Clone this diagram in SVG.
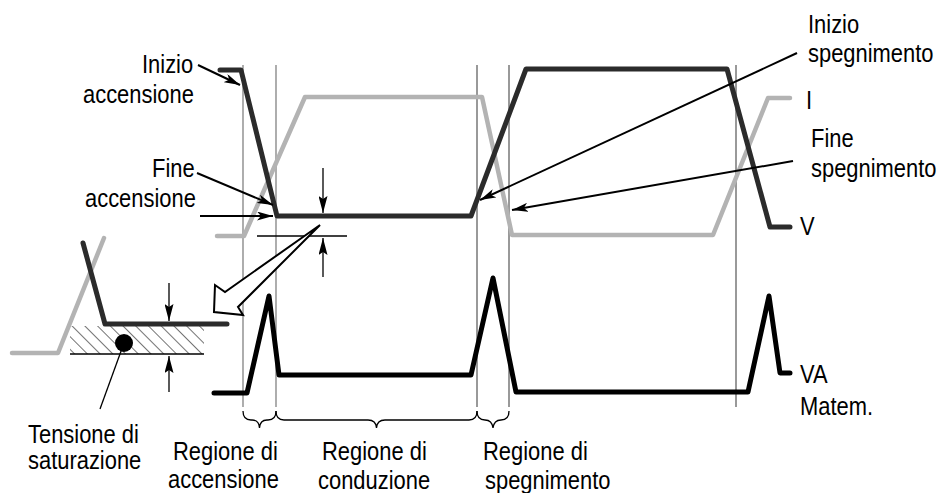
<svg xmlns="http://www.w3.org/2000/svg" width="944" height="493" viewBox="0 0 944 493">
  <style>
    .lbl { font-family: "Liberation Sans", Arial, sans-serif; font-size: 25.5px; fill: #000; }
    .guide { stroke: #555; stroke-width: 1.2; fill: none; }
    .guide.soft { stroke: #777; }
    .v { stroke: #2b2b2b; stroke-width: 5; fill: none; stroke-linejoin: round; stroke-linecap: round; }
    .i { stroke: #b3b3b3; stroke-width: 4.5; fill: none; stroke-linejoin: round; stroke-linecap: round; }
    .va { stroke: #000; stroke-width: 5; fill: none; stroke-linejoin: round; stroke-linecap: round; }
    .lead { stroke: #000; stroke-width: 2; fill: none; }
    .thin { stroke: #000; stroke-width: 1.3; fill: none; }
    .brace { stroke: #000; stroke-width: 1.3; fill: none; }
  </style>
  <defs>
    <marker id="ah" viewBox="0 0 16 9" refX="16" refY="4.5" markerWidth="16" markerHeight="9" markerUnits="userSpaceOnUse" orient="auto">
      <path d="M0,0 L16,4.5 L0,9 L4,4.5 z" fill="#000"/>
    </marker>
    <marker id="ahn" viewBox="0 0 17 9" refX="17" refY="4.5" markerWidth="17" markerHeight="9" markerUnits="userSpaceOnUse" orient="auto">
      <path d="M0,0 L17,4.5 L0,9 L3,4.5 z" fill="#000"/>
    </marker>
    <pattern id="hatch" width="9" height="9" patternUnits="userSpaceOnUse" patternTransform="rotate(-45)">
      <line x1="0" y1="0" x2="0" y2="9" stroke="#000" stroke-width="1.1"/>
    </pattern>
  </defs>

  <!-- vertical region guides -->
  <g id="guides">
    <line class="guide soft" x1="243" y1="65" x2="243" y2="407"/>
    <line class="guide soft" x1="276" y1="65" x2="276" y2="407"/>
    <line class="guide" x1="477" y1="65" x2="477" y2="407"/>
    <line class="guide" x1="509" y1="65" x2="509" y2="407"/>
    <line class="guide" x1="736" y1="65" x2="736" y2="407"/>
  </g>

  <!-- waveforms -->
  <g id="trace-i">
    <polyline class="i" points="217,236 244,236 305,97 482,97 512,235 713,235 768,98 790,98"/>
  </g>
  <g id="trace-v">
    <polyline class="v" points="220,70 241,70 277,216 471,216 526,69 727,69 770,227 790,227"/>
  </g>
  <g id="trace-va">
    <polyline class="va" points="214,393 247,393 269,296 279,375 471,375 493,278 516,392 748,392 769,296 780,373 790,373"/>
  </g>

  <!-- saturation detail -->
  <g id="detail">
    <rect x="70" y="326" width="134" height="28" fill="url(#hatch)"/>
    <line class="thin" x1="70" y1="354" x2="204" y2="354"/>
    <polyline class="i" points="12,353 58,353 104,238"/>
    <polyline class="v" points="83,243 105,324 227,324"/>
    <circle cx="124" cy="343" r="9" fill="#000"/>
    <line class="thin" x1="124" y1="343" x2="100" y2="409"/>
    <line class="thin" x1="169" y1="283" x2="169" y2="321" marker-end="url(#ahn)"/>
    <line class="thin" x1="169" y1="392" x2="169" y2="356" marker-end="url(#ahn)"/>
  </g>

  <!-- saturation measure on main trace -->
  <g id="measure">
    <line class="thin" x1="257" y1="236" x2="347" y2="236"/>
    <line class="thin" x1="323" y1="168" x2="323" y2="213" marker-end="url(#ahn)"/>
    <line class="thin" x1="323" y1="277" x2="323" y2="238" marker-end="url(#ahn)"/>
    <polygon points="320,225 225,292 215,285 214,312 243,315 238,307" fill="#fff" stroke="#000" stroke-width="2" stroke-linejoin="miter"/>
  </g>

  <!-- leader arrows -->
  <g id="connectors">
    <line class="lead" x1="198" y1="65" x2="240" y2="85" marker-end="url(#ah)"/>
    <line class="lead" x1="197" y1="173" x2="273" y2="205" marker-end="url(#ah)"/>
    <line class="lead" x1="200" y1="216" x2="273" y2="216" marker-end="url(#ah)"/>
    <line class="lead" x1="797" y1="53" x2="480" y2="200" marker-end="url(#ah)"/>
    <line class="lead" x1="793" y1="161" x2="512" y2="210" marker-end="url(#ah)"/>
  </g>

  <!-- region braces -->
  <g id="braces">
    <path class="brace" d="M243,411 Q243,420 251,420 L252,420 Q259,420 259.5,428 Q260,420 267,420 L268,420 Q276,420 276,411"/>
    <path class="brace" d="M276,411 Q276,420 284,420 L368,420 Q376,420 376.5,428 Q377,420 385,420 L469,420 Q477,420 477,411"/>
    <path class="brace" d="M477,411 Q477,420 485,420 Q492,420 493,428 Q494,420 501,420 Q509,420 509,411"/>
  </g>

  <!-- labels (condensed sans, scaled horizontally) -->
  <g id="label-inizio-accensione">
    <text class="lbl" transform="translate(142,73) scale(0.86,1)">Inizio</text>
    <text class="lbl" transform="translate(83,103) scale(0.86,1)">accensione</text>
  </g>
  <g id="label-fine-accensione">
    <text class="lbl" transform="translate(152,177) scale(0.86,1)">Fine</text>
    <text class="lbl" transform="translate(85,207) scale(0.86,1)">accensione</text>
  </g>
  <g id="label-inizio-spegnimento">
    <text class="lbl" transform="translate(808,33) scale(0.86,1)">Inizio</text>
    <text class="lbl" transform="translate(808,62) scale(0.86,1)">spegnimento</text>
  </g>
  <g id="label-i">
    <text class="lbl" transform="translate(806,109) scale(0.86,1)">I</text>
  </g>
  <g id="label-fine-spegnimento">
    <text class="lbl" transform="translate(811,147) scale(0.86,1)">Fine</text>
    <text class="lbl" transform="translate(811,177) scale(0.86,1)">spegnimento</text>
  </g>
  <g id="label-v">
    <text class="lbl" transform="translate(800,235) scale(0.86,1)">V</text>
  </g>
  <g id="label-va">
    <text class="lbl" transform="translate(800,383) scale(0.86,1)">VA</text>
    <text class="lbl" transform="translate(800,415) scale(0.86,1)">Matem.</text>
  </g>
  <g id="label-tensione">
    <text class="lbl" transform="translate(28,443) scale(0.86,1)">Tensione di</text>
    <text class="lbl" transform="translate(28,469) scale(0.86,1)">saturazione</text>
  </g>
  <g id="label-reg-accensione">
    <text class="lbl" transform="translate(173,460) scale(0.86,1)">Regione di</text>
    <text class="lbl" transform="translate(168,488) scale(0.86,1)">accensione</text>
  </g>
  <g id="label-reg-conduzione">
    <text class="lbl" transform="translate(322,460) scale(0.86,1)">Regione di</text>
    <text class="lbl" transform="translate(318,489) scale(0.86,1)">conduzione</text>
  </g>
  <g id="label-reg-spegnimento">
    <text class="lbl" transform="translate(483,460) scale(0.86,1)">Regione di</text>
    <text class="lbl" transform="translate(485,489) scale(0.86,1)">spegnimento</text>
  </g>
</svg>
